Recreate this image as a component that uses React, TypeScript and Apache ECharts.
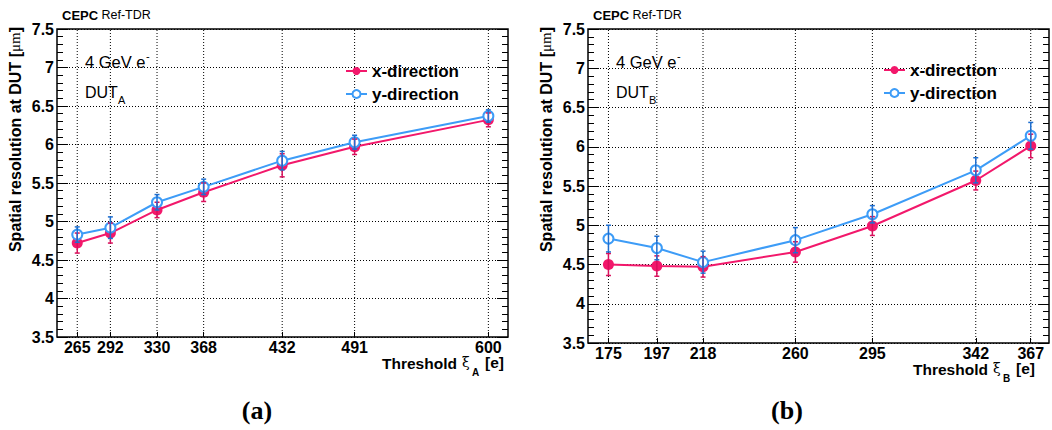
import React, { useEffect, useRef } from "react";
import * as echarts from "echarts";

// ---- data ----
const thresholdsA = [265, 292, 330, 368, 432, 491, 600];
const xDirA = [4.72, 4.85, 5.15, 5.38, 5.73, 5.97, 6.32];
const xDirErrA = [0.13, 0.13, 0.1, 0.12, 0.15, 0.1, 0.09];
const yDirA = [4.83, 4.92, 5.25, 5.45, 5.79, 6.03, 6.37];
const yDirErrA = [0.1, 0.14, 0.1, 0.1, 0.12, 0.09, 0.08];

const thresholdsB = [175, 197, 218, 260, 295, 342, 367];
const xDirB = [4.5, 4.48, 4.47, 4.66, 4.99, 5.57, 6.01];
const xDirErrB = [0.14, 0.13, 0.13, 0.13, 0.12, 0.12, 0.15];
const yDirB = [4.83, 4.71, 4.53, 4.81, 5.14, 5.7, 6.14];
const yDirErrB = [0.17, 0.15, 0.14, 0.16, 0.11, 0.16, 0.17];

const seriesNames = ["x-direction", "y-direction"];

const PINK = "#f2186b";
const PINK_ERR = "#d9105c";
const BLUE = "#3d9cf7";
const BLUE_ERR = "#1f6fd0";
const SANS = "Liberation Sans, Arial, Helvetica, sans-serif";

function errRender(color: string) {
  return (params: any, api: any) => {
    const x = api.value(0);
    const lo = api.value(1);
    const hi = api.value(2);
    const p1 = api.coord([x, lo]);
    const p2 = api.coord([x, hi]);
    const c = 2.5;
    const st = { stroke: color, lineWidth: 1.5 };
    return {
      type: "group",
      children: [
        { type: "line", shape: { x1: p1[0], y1: p1[1], x2: p2[0], y2: p2[1] }, style: st },
        { type: "line", shape: { x1: p1[0] - c, y1: p1[1], x2: p1[0] + c, y2: p1[1] }, style: st },
        { type: "line", shape: { x1: p2[0] - c, y1: p2[1], x2: p2[0] + c, y2: p2[1] }, style: st },
      ],
    };
  };
}

function vgridRender(params: any, api: any) {
  const x = api.value(0);
  const p1 = api.coord([x, 3.5]);
  const p2 = api.coord([x, 7.5]);
  return {
    type: "line",
    shape: { x1: p1[0], y1: p1[1], x2: p2[0], y2: p2[1] },
    style: { stroke: "#000", lineWidth: 1, lineDash: [1, 2] },
  };
}

function buildSeries(idx: number, xs: number[], xd: number[], xe: number[], yd: number[], ye: number[]) {
  return [
    {
      type: "custom",
      xAxisIndex: idx,
      yAxisIndex: idx * 2,
      renderItem: vgridRender,
      data: xs.map((x) => [x]),
      encode: { x: 0 },
      z: 1,
      silent: true,
    },
    {
      name: seriesNames[0],
      type: "line",
      xAxisIndex: idx,
      yAxisIndex: idx * 2,
      data: xs.map((x, i) => [x, xd[i]]),
      symbol: "circle",
      symbolSize: 11,
      itemStyle: { color: PINK },
      lineStyle: { color: PINK, width: 2 },
      z: 3,
    },
    {
      name: seriesNames[1],
      type: "line",
      xAxisIndex: idx,
      yAxisIndex: idx * 2,
      data: xs.map((x, i) => [x, yd[i]]),
      symbol: "emptyCircle",
      symbolSize: 10,
      itemStyle: { color: BLUE, borderWidth: 1.3 },
      lineStyle: { color: BLUE, width: 2 },
      z: 4,
    },
    {
      type: "custom",
      xAxisIndex: idx,
      yAxisIndex: idx * 2,
      renderItem: errRender(PINK_ERR),
      data: xs.map((x, i) => [x, xd[i] - xe[i], xd[i] + xe[i]]),
      encode: { x: 0, y: [1, 2] },
      z: 5,
      silent: true,
    },
    {
      type: "custom",
      xAxisIndex: idx,
      yAxisIndex: idx * 2,
      renderItem: errRender(BLUE_ERR),
      data: xs.map((x, i) => [x, yd[i] - ye[i], yd[i] + ye[i]]),
      encode: { x: 0, y: [1, 2] },
      z: 6,
      silent: true,
    },
  ];
}

function yAxes(gridIndex: number) {
  const common = {
    type: "value",
    gridIndex,
    min: 3.5,
    max: 7.5,
    interval: 0.5,
    axisLine: { show: false },
    minorTick: { show: true, splitNumber: 5, length: 6, lineStyle: { color: "#000", width: 1 } },
  };
  return [
    {
      ...common,
      position: "left",
      axisTick: { show: true, inside: true, length: 11, lineStyle: { color: "#000", width: 1 } },
      axisLabel: { color: "#000", fontFamily: SANS, fontWeight: "bold", fontSize: 16, margin: 3 },
      splitLine: { show: true, lineStyle: { color: "#000", width: 1, type: [1, 2] } },
    },
    {
      ...common,
      position: "right",
      axisTick: { show: true, inside: true, length: 11, lineStyle: { color: "#000", width: 1 } },
      axisLabel: { show: false },
      splitLine: { show: false },
    },
  ];
}

function xAxis(gridIndex: number, min: number, max: number, ticks: number[]) {
  return {
    type: "value",
    gridIndex,
    min,
    max,
    axisLine: { show: false },
    splitLine: { show: false },
    axisTick: { show: true, inside: true, length: 5, customValues: ticks, lineStyle: { color: "#000" } },
    axisLabel: {
      customValues: ticks,
      color: "#000",
      fontFamily: SANS,
      fontWeight: "bold",
      fontSize: 16,
      margin: 2,
    },
  };
}

function txt(x: number, y: number, text: string, font: string) {
  return {
    type: "text",
    x,
    y,
    silent: true,
    style: { text, font, fill: "#000", verticalAlign: "middle", align: "left" },
  };
}

function panelGraphics(dx: number, dy: number, sub: string) {
  return [
    {
      type: "text",
      x: dx + 62,
      y: 15,
      silent: true,
      style: {
        text: "{b|CEPC} {n|Ref-TDR}",
        verticalAlign: "middle",
        rich: {
          b: { fontFamily: SANS, fontWeight: "bold", fontSize: 13, fill: "#000" },
          n: { fontFamily: SANS, fontSize: 12.5, fill: "#000" },
        },
      },
    },
    txt(dx + 85, 62, "4 GeV e", `16.5px ${SANS}`),
    txt(dx + 146, 56, "-", `11px ${SANS}`),
    txt(dx + 85, 92, "DUT", `16px ${SANS}`),
    txt(dx + 118, 100, sub, `11px ${SANS}`),
    // x-axis title
    txt(dx + 382, 363 + dy, "Threshold", `bold 15.5px ${SANS}`),
    txt(dx + 462, 362 + dy, "ξ", `14px DejaVu Serif`),
    txt(dx + 472, 372 + dy, sub, `bold 10px ${SANS}`),
    txt(dx + 485, 362 + dy, "[e]", `bold 15.5px ${SANS}`),
    // y-axis title
    {
      type: "text",
      x: dx + 15,
      y: 27,
      rotation: Math.PI / 2,
      silent: true,
      style: {
        text: "{b|Spatial resolution at DUT [}{m|μm}{b|]}",
        align: "right",
        verticalAlign: "middle",
        rich: {
          b: { fontFamily: SANS, fontWeight: "bold", fontSize: 16, fill: "#000" },
          m: { fontFamily: "Liberation Serif", fontSize: 15, fill: "#000" },
        },
      },
    },
  ];
}

export default function App() {
  const ref = useRef<HTMLDivElement>(null);
  useEffect(() => {
    if (!ref.current) return;
    const chart = echarts.init(ref.current, null, { renderer: "svg" });
    const legendCommon = {
      orient: "vertical",
      data: seriesNames,
      itemWidth: 21,
      itemHeight: 10,
      itemGap: 3,
      selectedMode: false,
      textStyle: { fontFamily: SANS, fontWeight: "bold", fontSize: 17, color: "#000", lineHeight: 20 },
    };
    chart.setOption({
      animation: false,
      backgroundColor: "#fff",
      grid: [
        { left: 57, top: 29, width: 451, height: 308, show: true, borderColor: "#000", borderWidth: 1.5, backgroundColor: "transparent" },
        { left: 588, top: 29, width: 461, height: 314, show: true, borderColor: "#000", borderWidth: 1.5, backgroundColor: "transparent" },
      ],
      legend: [
        { ...legendCommon, left: 340, top: 56 },
        { ...legendCommon, left: 878, top: 55 },
      ],
      xAxis: [xAxis(0, 248.5, 616, thresholdsA), xAxis(1, 165.7, 375.3, thresholdsB)],
      yAxis: [...yAxes(0), ...yAxes(1)],
      series: [
        ...buildSeries(0, thresholdsA, xDirA, xDirErrA, yDirA, yDirErrA),
        ...buildSeries(1, thresholdsB, xDirB, xDirErrB, yDirB, yDirErrB),
      ],
      graphic: [
        ...panelGraphics(0, 0, "A"),
        ...panelGraphics(531, 6, "B"),
        {
          type: "text",
          x: 257,
          y: 410,
          silent: true,
          style: { text: "(a)", font: "bold 26px Liberation Serif", fill: "#000", align: "center", verticalAlign: "middle" },
        },
        {
          type: "text",
          x: 787,
          y: 410,
          silent: true,
          style: { text: "(b)", font: "bold 26px Liberation Serif", fill: "#000", align: "center", verticalAlign: "middle" },
        },
      ],
    });
    return () => chart.dispose();
  }, []);
  return <div ref={ref} style={{ position: "absolute", left: 0, top: 0, width: 1052, height: 430 }} />;
}
